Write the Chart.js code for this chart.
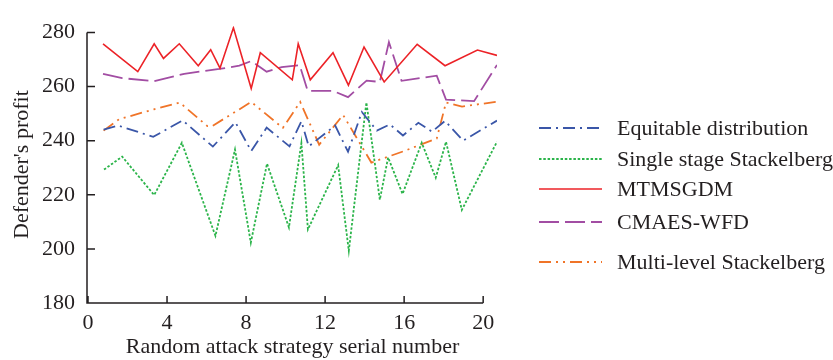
<!DOCTYPE html>
<html>
<head>
<meta charset="utf-8">
<script src="https://cdn.jsdelivr.net/npm/chart.js@4/dist/chart.umd.min.js"></script>
<style>
    html, body { margin: 0; padding: 0; background: #fff; }
    #profitChart { display: block; }
</style>
</head>
<body>
<canvas id="profitChart" width="833" height="360"></canvas>
<script>

/*
 * Data
 */

const seriesNames = [
    "Equitable distribution",
    "Single stage Stackelberg",
    "MTMSGDM",
    "CMAES-WFD",
    "Multi-level Stackelberg"
];

const equitableX = [0.79, 1.52, 3.30, 4.79, 6.32, 7.46, 8.26, 9.04, 10.20, 10.80, 11.17, 12.51, 13.16, 13.86, 14.62, 15.28, 15.94, 16.72, 17.41, 18.07, 18.98, 20.70];
const equitableY = [244.1, 245.6, 241.4, 247.5, 237.8, 246.8, 236.2, 244.8, 237.9, 247.2, 237.9, 245.6, 235.9, 250.6, 243.7, 246.0, 241.9, 246.6, 243.3, 247.3, 240.0, 247.4];

const singleX = [0.81, 1.73, 3.35, 4.75, 6.45, 7.44, 8.24, 9.06, 10.17, 10.80, 11.13, 12.66, 13.20, 14.09, 14.77, 15.19, 15.92, 16.89, 17.60, 18.12, 18.92, 20.70];
const singleY = [229.3, 234.1, 219.9, 239.2, 204.8, 236.7, 202.3, 231.5, 207.9, 239.1, 207.2, 230.9, 199.3, 254.1, 218.2, 233.8, 220.3, 239.2, 226.3, 239.6, 214.4, 239.6];

const mtmsgdmX = [0.76, 2.52, 3.35, 3.82, 4.62, 5.58, 6.21, 6.68, 7.36, 8.26, 8.72, 10.34, 10.64, 11.25, 12.40, 13.18, 13.97, 14.99, 16.66, 18.07, 19.71, 20.70];
const mtmsgdmY = [275.8, 265.5, 275.8, 270.4, 275.8, 267.7, 273.6, 266.8, 281.7, 259.3, 272.5, 262.5, 275.8, 262.5, 272.5, 260.5, 274.6, 261.7, 275.6, 267.7, 273.5, 271.5];

const cmaesX = [0.76, 1.73, 3.35, 4.87, 6.65, 7.66, 8.26, 9.04, 9.80, 10.71, 11.12, 12.40, 13.16, 14.10, 14.77, 15.23, 15.87, 17.65, 18.12, 19.54, 20.70];
const cmaesY = [264.7, 263.1, 262.0, 264.7, 266.5, 267.7, 269.4, 265.5, 267.2, 267.9, 258.4, 258.4, 256.1, 262.2, 261.7, 276.4, 262.1, 264.0, 255.2, 254.6, 268.0];

const multiX = [0.79, 1.57, 3.34, 4.64, 6.04, 6.29, 8.26, 9.86, 10.74, 11.70, 12.91, 14.34, 15.94, 17.65, 18.12, 18.93, 20.70];
const multiY = [243.7, 247.9, 251.6, 254.1, 245.4, 245.4, 254.3, 244.7, 254.3, 238.5, 249.5, 231.9, 236.0, 240.8, 254.1, 252.6, 254.4];

const xTicks = [0, 4, 8, 12, 16, 20];
const yTicks = [180, 200, 220, 240, 260, 280];


const toPoints = (xs, ys) => xs.map((x, i) => ({ x, y: ys[i] }));

const serif = "'Liberation Serif', 'Times New Roman', serif";
const inkColor = "#231f20";


/*
 * Axis lines with inward ticks
 */

const axesPlugin = {

    id: "axesLines",

    afterDraw(chart) {

        const { ctx, scales: { x, y } } = chart;

        const left = x.getPixelForValue(xTicks[0]);
        const right = x.getPixelForValue(xTicks[xTicks.length - 1]);
        const bottom = y.getPixelForValue(yTicks[0]);
        const top = y.getPixelForValue(yTicks[yTicks.length - 1]);

        ctx.save();
        ctx.strokeStyle = inkColor;
        ctx.lineWidth = 1.5;
        ctx.beginPath();
        ctx.moveTo(left - 1, top);
        ctx.lineTo(left - 1, bottom);
        ctx.lineTo(right, bottom);

        yTicks.forEach(v => {
            const py = y.getPixelForValue(v);
            ctx.moveTo(left - 1, py);
            ctx.lineTo(left + 7, py);
        });

        xTicks.forEach(v => {
            const px = x.getPixelForValue(v);
            ctx.moveTo(px, bottom);
            ctx.lineTo(px, bottom - 7);
        });

        ctx.stroke();
        ctx.restore();

    }

};


/*
 * Legend on the right
 */

const legendRows = [128, 159, 189, 222, 262];

const legendPlugin = {

    id: "sideLegend",

    afterDraw(chart) {

        const { ctx } = chart;

        ctx.save();
        ctx.font = "22px " + serif;
        ctx.textBaseline = "middle";
        ctx.fillStyle = inkColor;

        chart.data.datasets.forEach((ds, i) => {
            const py = legendRows[i];
            ctx.strokeStyle = ds.borderColor;
            ctx.lineWidth = ds.borderWidth;
            ctx.setLineDash(ds.borderDash || []);
            ctx.beginPath();
            ctx.moveTo(539, py);
            ctx.lineTo(602, py);
            ctx.stroke();
            ctx.setLineDash([]);
            ctx.fillText(ds.label, 617, py + 1);
        });

        ctx.restore();

    }

};


document.addEventListener(

    "DOMContentLoaded",

    () => {

        const canvas = document.getElementById("profitChart");

        new Chart(

            canvas,

            {

                type: "line",

                data: {

                    datasets: [

                        {
                            label: seriesNames[0],
                            data: toPoints(equitableX, equitableY),
                            borderColor: "#3a56a8",
                            borderWidth: 1.8,
                            borderDash: [12, 5, 2, 5]
                        },

                        {
                            label: seriesNames[1],
                            data: toPoints(singleX, singleY),
                            borderColor: "#2bb44a",
                            borderWidth: 1.8,
                            borderDash: [2.5, 1.8]
                        },

                        {
                            label: seriesNames[2],
                            data: toPoints(mtmsgdmX, mtmsgdmY),
                            borderColor: "#ec2227",
                            borderWidth: 1.6,
                            borderDash: []
                        },

                        {
                            label: seriesNames[3],
                            data: toPoints(cmaesX, cmaesY),
                            borderColor: "#a24da3",
                            borderWidth: 1.8,
                            borderDash: [20, 6]
                        },

                        {
                            label: seriesNames[4],
                            data: toPoints(multiX, multiY),
                            borderColor: "#f07428",
                            borderWidth: 1.8,
                            borderDash: [12, 5, 2, 5, 2, 5]
                        }

                    ]

                },

                options: {

                    responsive: false,
                    animation: false,
                    devicePixelRatio: 1,

                    layout: {
                        padding: { left: 0, right: 336, top: 10, bottom: 0 }
                    },

                    elements: {
                        point: { radius: 0 },
                        line: { tension: 0, fill: false }
                    },

                    plugins: {
                        legend: { display: false },
                        tooltip: { enabled: false }
                    },

                    scales: {

                        x: {
                            type: "linear",
                            min: 0,
                            max: 20.7,
                            grid: { display: false, drawTicks: false },
                            border: { display: false },
                            afterBuildTicks: scale => {
                                scale.ticks = xTicks.map(value => ({ value }));
                            },
                            afterFit: scale => {
                                scale.height = 57;
                            },
                            ticks: {
                                padding: 7,
                                color: inkColor,
                                font: { family: serif, size: 22 },
                                maxRotation: 0
                            },
                            title: {
                                display: true,
                                text: "Random attack strategy serial number",
                                color: inkColor,
                                font: { family: serif, size: 22 },
                                padding: { top: 0, bottom: 0 }
                            }
                        },

                        y: {
                            min: 180,
                            max: 282.3,
                            grid: { display: false, drawTicks: false },
                            border: { display: false },
                            afterBuildTicks: scale => {
                                scale.ticks = yTicks.map(value => ({ value }));
                            },
                            afterFit: scale => {
                                scale.width = 88;
                            },
                            ticks: {
                                padding: 13,
                                color: inkColor,
                                font: { family: serif, size: 22 }
                            },
                            title: {
                                display: true,
                                text: "Defender's profit",
                                color: inkColor,
                                font: { family: serif, size: 22 },
                                padding: { top: 9, bottom: 0 }
                            }
                        }

                    }

                },

                plugins: [axesPlugin, legendPlugin]

            }

        );

    }

);

</script>
</body>
</html>
